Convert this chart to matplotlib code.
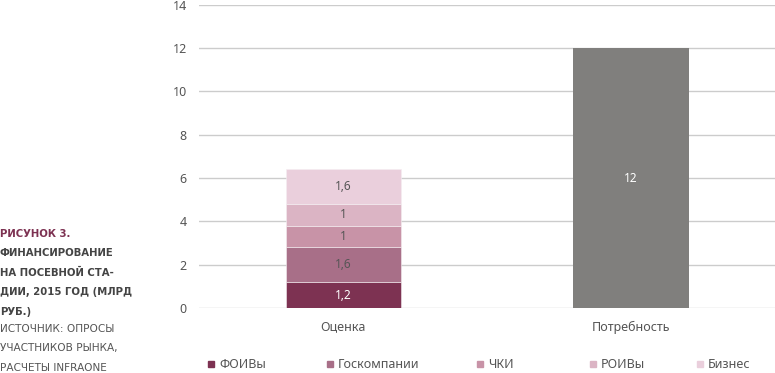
import numpy as np
import matplotlib.pyplot as plt
from matplotlib.patches import Rectangle

plt.rcParams['font.family'] = ['Noto Sans', 'DejaVu Sans']

# данные
categories = ['Оценка', 'Потребность']
series = ['ФОИВы', 'Госкомпании', 'ЧКИ', 'РОИВы', 'Бизнес']
stack_values = [1.2, 1.6, 1, 1, 1.6]
need_value = 12
stack_labels = ['1,2', '1,6', '1', '1', '1,6']
colors = ['#7d3252', '#a86f88', '#c893a7', '#dbb4c4', '#eacfdc']
gray = '#807f7d'

W, H = 775, 373
fig = plt.figure(figsize=(W / 100, H / 100), dpi=100)
ax = fig.add_axes([0.257, 0.174, 0.743, 0.813])

x = np.arange(len(categories))
bottom = 0
for val, lab, col in zip(stack_values, stack_labels, colors):
    ax.bar(x[0], val, bottom=bottom, width=0.4, color=col, edgecolor='#f4eef1', linewidth=0.4, zorder=3)
    tc = 'white' if col == colors[0] else '#555555'
    ax.text(x[0], bottom + val / 2, lab, ha='center', va='center', fontsize=8.5, color=tc, zorder=4)
    bottom += val

ax.bar(x[1], need_value, width=0.4, color=gray, zorder=3)
ax.text(x[1], need_value / 2, str(need_value), ha='center', va='center', fontsize=8.5, color='white', zorder=4)

# оси
ax.set_xlim(-0.5, 1.5)
ax.set_ylim(0, 14)
ax.set_yticks(range(0, 15, 2))
ax.set_xticks(x)
ax.set_xticklabels(categories)
ax.tick_params(axis='both', length=0, labelsize=9, colors='#555555')
ax.tick_params(axis='y', pad=9)
ax.tick_params(axis='x', pad=9)
ax.yaxis.grid(True, color='#cccccc', linewidth=1)
ax.set_axisbelow(True)
for s in ax.spines.values():
    s.set_visible(False)

# легенда
leg_x = [208, 327, 477, 590, 697]
leg_y = 364
for lx, name, col in zip(leg_x, series, colors):
    fig.patches.append(Rectangle((lx / W, 1 - (leg_y + 3) / H), 6 / W, 6 / H,
                                 transform=fig.transFigure, color=col))
    fig.text((lx + 11) / W, 1 - leg_y / H, name, color='#555555', fontsize=9, va='center', ha='left')

# подпись слева
title_lines = ['РИСУНОК 3.', 'ФИНАНСИРОВАНИЕ', 'НА ПОСЕВНОЙ СТА-', 'ДИИ, 2015 ГОД (МЛРД', 'РУБ.)']
src_lines = ['ИСТОЧНИК: ОПРОСЫ', 'УЧАСТНИКОВ РЫНКА,', 'РАСЧЕТЫ INFRAONE']
y0 = 234
step = 19.4
for i, t in enumerate(title_lines):
    c = '#7d3252' if i == 0 else '#444444'
    fig.text(0.0, 1 - (y0 + i * step) / H, t, color=c, fontsize=7.3, fontweight='bold',
             family='DejaVu Sans', va='center', ha='left')
for j, t in enumerate(src_lines):
    fig.text(0.0, 1 - (y0 + (len(title_lines) + j) * step - 2) / H, t, color='#555555', fontsize=7.6,
             family='DejaVu Sans', va='center', ha='left')

plt.savefig('out.png', dpi=100)
